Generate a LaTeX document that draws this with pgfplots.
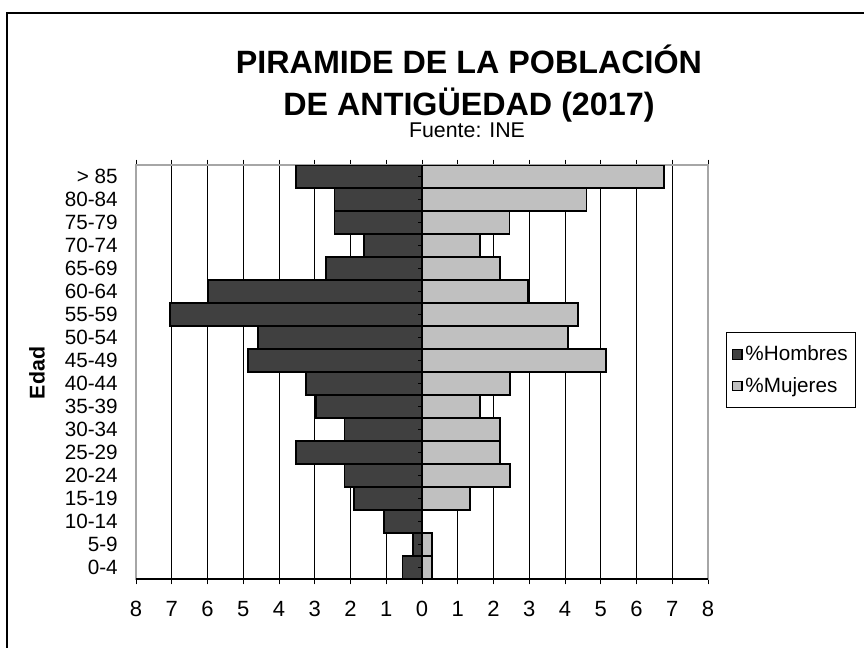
\documentclass[border=0pt]{standalone}
\usepackage{pgfplots}
\pgfplotsset{compat=1.18}
\usepackage{fontspec}
\setmainfont{Liberation Sans}
\definecolor{hom}{HTML}{404040}
\definecolor{muj}{HTML}{C0C0C0}
\newcommand\tf[1]{\mbox{\fontsize{15.5}{17}\selectfont #1}}
\newcommand\lf[1]{\mbox{\fontsize{15.5}{17}\selectfont #1}}
\newcommand\xf[1]{\mbox{\fontsize{16.5}{18}\selectfont #1}}
\pgfplotstableread{
y val
0 -0.55
1 -0.26
2 -1.06
3 -1.90
4 -2.17
5 -3.52
6 -2.17
7 -2.97
8 -3.24
9 -4.86
10 -4.59
11 -7.05
12 -5.98
13 -2.69
14 -1.62
15 -2.45
16 -2.45
17 -3.52
}\hombres
\pgfplotstableread{
y val
0 0.28
1 0.28
2 0.00
3 1.34
4 2.46
5 2.18
6 2.18
7 1.62
8 2.46
9 5.14
10 4.08
11 4.36
12 2.96
13 2.18
14 1.62
15 2.45
16 4.60
17 6.77
}\mujeres
\begin{document}
\begin{tikzpicture}
\begin{scope}[x=0.75pt,y=-0.75pt]
\useasboundingbox (0,0) rectangle (864,647);
\begin{scope}
\clip (0,0) rectangle (864,647);
\draw[line width=1pt] (7,13) rectangle (900,700);
\end{scope}
\node[anchor=base, font=\bfseries\fontsize{24.2}{30}\selectfont, inner sep=0pt] at (469,73) {PIRAMIDE DE LA POBLACIÓN};
\node[anchor=base, font=\bfseries\fontsize{24.2}{30}\selectfont, inner sep=0pt] at (469,115) {DE ANTIGÜEDAD (2017)};
\node[anchor=base, font=\fontsize{16}{19}\selectfont, inner sep=0pt] at (467,137) {Fuente: INE};
\node[rotate=90, font=\bfseries\fontsize{16}{19}\selectfont, inner sep=0pt] at (37,373) {Edad};
\end{scope}
\begin{axis}[
  at={(102pt,-434.25pt)}, anchor=south west,
  scale only axis, width=429pt, height=310.5pt,
  xmin=-8, xmax=8, ymin=-0.5, ymax=17.5,
  xtick={-8,...,8},
  xticklabels={\xf{8},\xf{7},\xf{6},\xf{5},\xf{4},\xf{3},\xf{2},\xf{1},\xf{0},\xf{1},\xf{2},\xf{3},\xf{4},\xf{5},\xf{6},\xf{7},\xf{8}},
  ytick={0,...,17},
  yticklabels={\tf{0-4},\tf{5-9},\tf{10-14},\tf{15-19},\tf{20-24},\tf{25-29},\tf{30-34},\tf{35-39},\tf{40-44},\tf{45-49},\tf{50-54},\tf{55-59},\tf{60-64},\tf{65-69},\tf{70-74},\tf{75-79},\tf{80-84},\tf{> 85}},
  xticklabel style={inner sep=0pt, yshift=-12.5pt},
  yticklabel style={inner sep=0pt, xshift=-9.5pt},
  /pgf/number format/assume math mode=true,
  xmajorgrids, major grid style={black, line width=0.6pt},
  axis line style={gray!70, line width=0.8pt},
  tick align=outside, major tick length=4pt,
  xtick style={black, line width=0.6pt},
  ytick style={draw=none},
  xbar, bar width=1, bar shift=0pt,
  legend style={at={(1.0315,0.5966)}, anchor=north west, draw=black, line width=0.8pt,
    row sep=7pt, inner xsep=4pt, inner ysep=8pt},
  legend cell align=left,
  legend image code/.code={\draw[#1, line width=1pt] (0pt,-3.6pt) rectangle (7.2pt,3.6pt);},
]
\addplot[fill=hom, draw=black, line width=1.2pt] table[x=val, y=y] {\hombres};
\addlegendentry{\lf{\%Hombres}}
\addplot[fill=muj, draw=black, line width=1.2pt] table[x=val, y=y] {\mujeres};
\addlegendentry{\lf{\%Mujeres}}
\pgfplotsinvokeforeach{0,...,17}{\draw[black, line width=0.6pt] (axis cs:0,#1) -- ++(-3pt,0pt);}
\draw[black, line width=0.8pt] (axis cs:-8,-0.5) -- (axis cs:8,-0.5);
\end{axis}
\end{tikzpicture}
\end{document}
